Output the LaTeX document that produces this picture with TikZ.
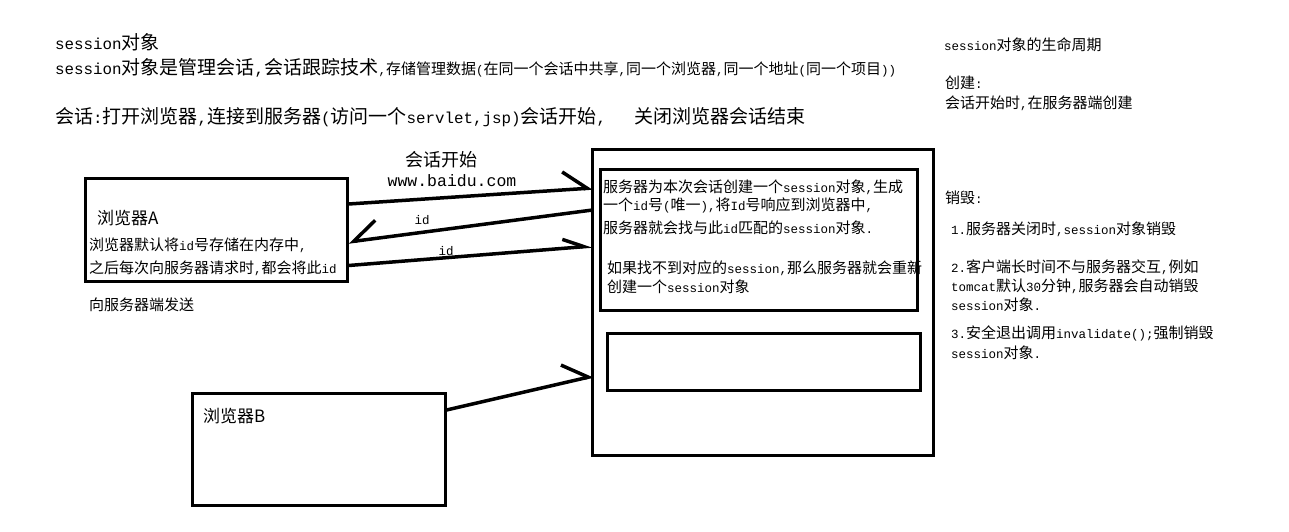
\documentclass[tikz,border=0pt]{standalone}
\usepackage{fontspec}
\newfontfamily\cjk{Noto Sans CJK SC}
\newfontfamily\monofont{Liberation Mono}
\newfontfamily\halffont{Liberation Mono}[Scale=0.8333]
\newcommand\half[1]{{\halffont #1}}
\usepackage{tikz}
\usetikzlibrary{arrows.meta,positioning}
\tikzset{
  bigtxt/.style={font=\cjk\fontsize{19}{23}\selectfont,inner sep=0pt,anchor=base west},
  smalltxt/.style={font=\cjk\fontsize{15}{19}\selectfont,inner sep=0pt,anchor=base west,align=left},
  lbltxt/.style={font=\cjk\fontsize{17}{21}\selectfont,inner sep=0pt,anchor=base west},
  box/.style={draw,line width=3pt,rectangle,inner sep=0pt},
  link/.style={line width=3.5pt,-{Straight Barb[harpoon,length=24pt,width=36pt]}},
  linkflat/.style={line width=3.5pt,-{Straight Barb[harpoon,length=21pt,width=18pt]}},
  linkback/.style={line width=3.5pt,-{Straight Barb[harpoon,swap,length=24pt,width=36pt]}}
}
\begin{document}
\begin{tikzpicture}[x=1pt,y=-1pt]
%
\useasboundingbox (0,0) rectangle (1289,531);
%
\node[bigtxt] (title) at (55,49) {\half{session}对象};
\node[bigtxt] (intro) at (55,74) {\half{session}对象是管理会话\half{,}会话跟踪技术};
\node[smalltxt] (introb) at (intro.base east) {\half{,}存储管理数据\half{(}在同一个会话中共享\half{,}同一个浏览器\half{,}同一个地址\half{(}同一个项目\half{))}};
\node[bigtxt] (huihua) at (55,123) {会话\half{:}打开浏览器\half{,}连接到服务器\half{(}访问一个\half{servlet,jsp)}会话开始\half{,\ \ \ }关闭浏览器会话结束};
%
\node[box,minimum width=262pt,minimum height=103pt] (brA) at (216,229.5) {};
\node[box,minimum width=253pt,minimum height=112pt] (brB) at (318.5,449) {};
\node[box,minimum width=341pt,minimum height=306pt] (server) at (762.5,302) {};
\node[box,minimum width=317pt,minimum height=141.5pt] (sess1) at (758.5,239.75) {};
\node[box,minimum width=313pt,minimum height=57pt] (sess2) at (763.5,361.5) {};
%
\node[lbltxt] (nameA) at (97,224.5) {浏览器A};
\node[smalltxt,font=\cjk\fontsize{15}{23}\selectfont] (memA) at (89,273.5) {浏览器默认将\half{id}号存储在内存中\half{,}\\之后每次向服务器请求时\half{,}都会将此\half{id}};
\node[smalltxt] (sendA) at (89,310.5) {向服务器端发送};
\node[lbltxt] (nameB) at (203,422) {浏览器B};
%
\node[smalltxt,font=\cjk\fontsize{15}{18.5}\selectfont] (create) at (603,210.5) {服务器为本次会话创建一个\half{session}对象\half{,}生成\\一个\half{id}号\half{(}唯一\half{),}将\half{Id}号响应到浏览器中\half{,}};
\node[smalltxt] (match) at (603,233.5) {服务器就会找与此\half{id}匹配的\half{session}对象\half{.}};
\node[smalltxt] (renew) at (607,292.5) {如果找不到对应的\half{session,}那么服务器就会重新\\创建一个\half{session}对象};
%
\node[font=\cjk\fontsize{18}{22}\selectfont,inner sep=0pt] (start) at (441,160) {会话开始};
\node[font=\monofont\fontsize{16.5}{20}\selectfont,inner sep=0pt] (url) at (452,181) {www.baidu.com};
\node[font=\halffont\fontsize{15}{19}\selectfont,inner sep=0pt] (idback) at (422,220) {id};
\node[font=\halffont\fontsize{15}{19}\selectfont,inner sep=0pt] (idsend) at (446,251) {id};
%
\draw[link] ([yshift=25.5pt]brA.east) -- ([yshift=114pt,xshift=2pt]server.west);
\draw[linkback] ([yshift=92pt,xshift=2pt]server.west) -- ([yshift=-12.5pt]brA.east);
\draw[linkflat] ([yshift=-36pt]brA.east) -- ([yshift=56pt,xshift=2pt]server.west);
\draw[link] ([yshift=39pt]brB.east) -- ([yshift=-74pt,xshift=3pt]server.west);
%
\node[smalltxt] (life) at (944,50.5) {\half{session}对象的生命周期};
\node[smalltxt,font=\cjk\fontsize{15}{20}\selectfont] (chuang) at (945,108.5) {创建\half{:}\\会话开始时\half{,}在服务器端创建};
\node[smalltxt] (xiaohui) at (945,203.5) {销毁\half{:}};
\node[smalltxt] (d1) at (951,234.5) {\half{1.}服务器关闭时\half{,session}对象销毁};
\node[smalltxt] (d2) at (951,310.5) {\half{2.}客户端长时间不与服务器交互\half{,}例如\\\half{tomcat}默认\half{30}分钟\half{,}服务器会自动销毁\\\half{session}对象\half{.}};
\node[smalltxt,font=\cjk\fontsize{15}{20}\selectfont] (d3) at (951,358.5) {\half{3.}安全退出调用\half{invalidate();}强制销毁\\\half{session}对象\half{.}};
%
\end{tikzpicture}
\end{document}
